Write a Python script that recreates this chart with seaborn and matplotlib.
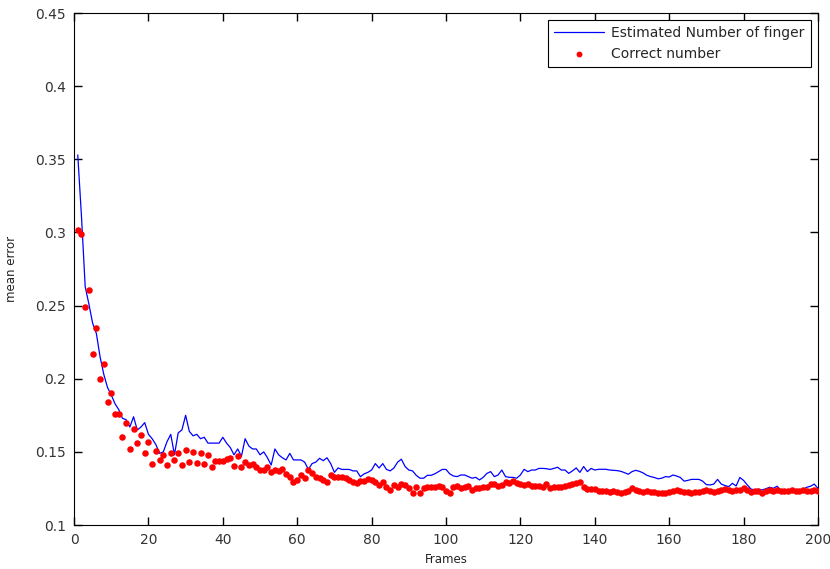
import matplotlib
matplotlib.use("Agg")
import matplotlib.pyplot as plt
import seaborn as sns
import numpy as np
import pandas as pd

# Values (frames 1..200)
estimated = [
    0.353, 0.311, 0.263, 0.251, 0.238, 0.231, 0.215, 0.203, 0.194, 0.189,
    0.183, 0.179, 0.173, 0.172, 0.167, 0.174, 0.165, 0.167, 0.170, 0.162,
    0.159, 0.155, 0.149, 0.150, 0.157, 0.162, 0.148, 0.163, 0.165, 0.175,
    0.164, 0.161, 0.162, 0.159, 0.160, 0.156, 0.156, 0.156, 0.156, 0.160,
    0.156, 0.153, 0.148, 0.152, 0.147, 0.159, 0.154, 0.152, 0.152, 0.148,
    0.150, 0.146, 0.141, 0.152, 0.148, 0.146, 0.1445, 0.149, 0.1445, 0.1445,
    0.1445, 0.143, 0.138, 0.142, 0.143, 0.1456, 0.144, 0.146, 0.142, 0.136,
    0.139, 0.138, 0.138, 0.138, 0.137, 0.137, 0.133, 0.135, 0.136, 0.1376,
    0.142, 0.139, 0.142, 0.138, 0.137, 0.139, 0.143, 0.145, 0.140, 0.1376,
    0.137, 0.134, 0.132, 0.132, 0.134, 0.134, 0.135, 0.1365, 0.138, 0.138,
    0.135, 0.1335, 0.1331, 0.1342, 0.1342, 0.1331, 0.132, 0.1326, 0.1308, 0.1326,
    0.1353, 0.1365, 0.1331, 0.1342, 0.1376, 0.1331, 0.1326, 0.1326, 0.132, 0.1342,
    0.1381, 0.1365, 0.1376, 0.1376, 0.1387, 0.1387, 0.1385, 0.138, 0.1387, 0.1395,
    0.1376, 0.1376, 0.1353, 0.137, 0.139, 0.136, 0.140, 0.1365, 0.1387, 0.1376,
    0.1381, 0.1381, 0.1381, 0.1376, 0.1374, 0.1372, 0.1367, 0.1358, 0.1347, 0.1365,
    0.1374, 0.1367, 0.1356, 0.134, 0.1331, 0.1325, 0.1316, 0.132, 0.1331, 0.1328,
    0.1342, 0.1335, 0.1325, 0.130, 0.1305, 0.1312, 0.1312, 0.1312, 0.130, 0.1276,
    0.1274, 0.128, 0.1312, 0.128, 0.127, 0.1262, 0.1285, 0.1267, 0.1325, 0.1305,
    0.1274, 0.1246, 0.124, 0.1244, 0.124, 0.1248, 0.1258, 0.1251, 0.1265, 0.124,
    0.124, 0.124, 0.124, 0.124, 0.124, 0.1244, 0.1258, 0.1265, 0.128, 0.125,
]

correct = [
    0.302, 0.299, 0.249, 0.261, 0.217, 0.235, 0.200, 0.210, 0.184, 0.190,
    0.176, 0.176, 0.160, 0.170, 0.152, 0.1655, 0.156, 0.1616, 0.1495, 0.157,
    0.1417, 0.1508, 0.1445, 0.148, 0.141, 0.1495, 0.1445, 0.1495, 0.141, 0.1513,
    0.1433, 0.150, 0.1426, 0.1495, 0.142, 0.148, 0.1395, 0.144, 0.144, 0.144,
    0.145, 0.146, 0.1404, 0.147, 0.1395, 0.143, 0.141, 0.142, 0.1395, 0.1377,
    0.1376, 0.1395, 0.1365, 0.1376, 0.1372, 0.1381, 0.1349, 0.1331, 0.1296, 0.1308,
    0.1342, 0.132, 0.1376, 0.1358, 0.1331, 0.132, 0.1308, 0.1296, 0.1342, 0.1331,
    0.1326, 0.1331, 0.132, 0.1308, 0.1296, 0.1285, 0.1303, 0.1303, 0.1312, 0.1308,
    0.1296, 0.1274, 0.1296, 0.1262, 0.124, 0.1274, 0.1262, 0.1281, 0.1274, 0.1251,
    0.1217, 0.1258, 0.1217, 0.1251, 0.1258, 0.1262, 0.1258, 0.1267, 0.1258, 0.1235,
    0.1217, 0.1258, 0.1267, 0.1255, 0.126, 0.1267, 0.124, 0.1251, 0.1256, 0.126,
    0.1262, 0.1281, 0.1281, 0.127, 0.1274, 0.1296, 0.1285, 0.1303, 0.1285, 0.1278,
    0.1276, 0.1281, 0.1269, 0.1267, 0.1265, 0.1258, 0.1281, 0.1251, 0.1262, 0.126,
    0.1258, 0.1267, 0.1274, 0.1283, 0.129, 0.1296, 0.1258, 0.1244, 0.1246, 0.1246,
    0.1233, 0.1233, 0.1233, 0.1228, 0.1235, 0.1226, 0.1217, 0.1228, 0.1235, 0.1251,
    0.124, 0.1235, 0.1228, 0.123, 0.1228, 0.1224, 0.1221, 0.1217, 0.122, 0.1228,
    0.1233, 0.124, 0.1235, 0.1228, 0.1224, 0.1221, 0.1226, 0.1228, 0.1233, 0.124,
    0.1235, 0.1228, 0.1235, 0.124, 0.1244, 0.1238, 0.1235, 0.124, 0.124, 0.1251,
    0.1238, 0.1228, 0.1235, 0.1233, 0.1221, 0.1235, 0.124, 0.1235, 0.1238, 0.1235,
    0.1233, 0.1235, 0.1238, 0.1235, 0.1235, 0.1238, 0.1235, 0.1235, 0.1238, 0.1235,
]

frames = np.arange(1, len(estimated) + 1)
x_ticks = list(range(0, 201, 20))
y_ticks = [0.1, 0.15, 0.2, 0.25, 0.3, 0.35, 0.4, 0.45]
y_labels = ['0.1', '0.15', '0.2', '0.25', '0.3', '0.35', '0.4', '0.45']

df = pd.DataFrame({'frame': frames, 'estimated': estimated, 'correct': correct})

sns.set_style('ticks')
plt.rcParams['font.family'] = ['DejaVu Sans']

fig = plt.figure(figsize=(8.3, 5.69), dpi=100)
ax = fig.add_axes([0.0892, 0.0773, 0.8963, 0.8997])

sns.lineplot(data=df, x='frame', y='estimated', ax=ax, color='#0000ff',
             linewidth=0.9, label='Estimated Number of finger')
sns.scatterplot(data=df, x='frame', y='correct', ax=ax, color='#ff0000',
                marker='o', s=22, linewidth=0, label='Correct number', zorder=3)

ax.set_xlim(0, 200)
ax.set_ylim(0.1, 0.45)
ax.set_xticks(x_ticks)
ax.set_yticks(y_ticks)
ax.set_yticklabels(y_labels)
ax.tick_params(direction='in', top=True, right=True, length=6, width=1.0,
               colors='black', labelsize=10, pad=6)
ax.tick_params(axis='x', labelcolor='#333333')
ax.tick_params(axis='y', labelcolor='#333333')
for side in ax.spines.values():
    side.set_visible(True)
    side.set_linewidth(0.8)
    side.set_color('black')

ax.set_xlabel('Frames', fontsize=8.5, labelpad=4, color='#222222')
ax.set_ylabel('mean error', fontsize=8.5, labelpad=12, color='#222222')

leg = ax.legend(loc='upper right', fontsize=10, frameon=True, fancybox=False,
                framealpha=1, edgecolor='black', handlelength=3.6,
                handletextpad=0.5, labelspacing=0.45, borderpad=0.45,
                borderaxespad=0.5, markerscale=0.9)
leg.get_frame().set_linewidth(0.8)

fig.savefig('out.png', dpi=100)
